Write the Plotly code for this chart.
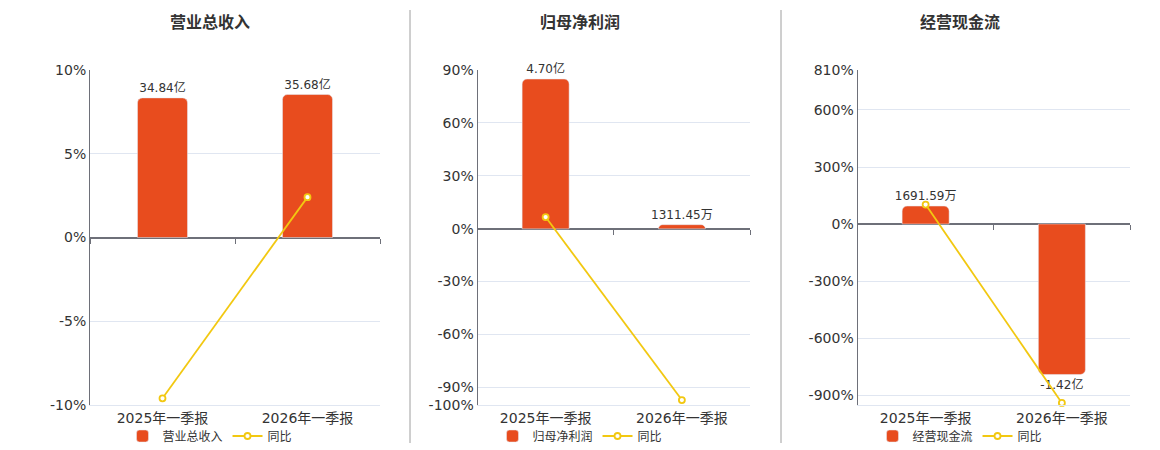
import plotly.graph_objects as go

W, H = 1152, 442   # page body has an 8px margin
OFF = 8

categories = ["2025年一季报", "2026年一季报"]

titles = ["营业总收入", "归母净利润", "经营现金流"]
bar_names = ["营业总收入", "归母净利润", "经营现金流"]
line_name = "同比"

# bar values in 亿
rev_vals = [34.84, 35.68]
profit_vals = [4.70, 0.131145]
cash_vals = [0.169159, -1.42]

rev_labels = ["34.84亿", "35.68亿"]
profit_labels = ["4.70亿", "1311.45万"]
cash_labels = ["1691.59万", "-1.42亿"]

# YoY %
rev_yoy = [-9.6, 2.41]
profit_yoy = [6.6, -97.21]
cash_yoy = [103.0, -939.0]

pct_ticks = [[-10, -5, 0, 5, 10], [-100, -90, -60, -30, 0, 30, 60, 90], [-900, -600, -300, 0, 300, 600, 810]]
pct_ranges = [[-10, 10], [-100, 90], [-950, 810]]
bar_ranges = [[-41.8, 41.8], [-5.525, 4.983], [-1.708, 1.453]]

BAR_C = "#E84C1E"
LINE_C = "#F2C811"
TXT = "#333333"
GRID = "#E0E6F1"
AX = "#6E7079"
FONT = "DejaVu Sans, Noto Sans CJK SC, sans-serif"


def px_x(p):
    return (p - OFF) / W


def px_y(p):
    return 1 - (p - OFF) / H


x_px = [(90, 380), (477.5, 750), (857.5, 1130)]
centers_px = [210, 580, 960]
y_dom = [px_y(405), px_y(70)]

bars = [rev_vals, profit_vals, cash_vals]
labels = [rev_labels, profit_labels, cash_labels]
yoys = [rev_yoy, profit_yoy, cash_yoy]

fig = go.Figure()
layout = dict(
    width=W, height=H, margin=dict(l=0, r=0, t=0, b=0, autoexpand=False),
    paper_bgcolor="white", plot_bgcolor="rgba(0,0,0,0)",
    font=dict(family=FONT, color=TXT, size=14),
    showlegend=True, annotations=[], shapes=[],
)

for i in range(3):
    n = i + 1
    xa = f"x{n}"
    ya_bar = f"y{n}"
    ya_pct = f"y{n + 3}"
    xa_zero = f"x{n + 3}"
    leg = "legend" if i == 0 else f"legend{n}"

    fig.add_trace(go.Bar(
        x=categories, y=bars[i], name=bar_names[i], xaxis=xa, yaxis=ya_bar,
        marker=dict(color=BAR_C, cornerradius=5), width=0.345,
        text=labels[i], texttemplate="%{text}", textposition="outside",
        constraintext="none",
        textfont=dict(size=12, color=TXT), cliponaxis=False, legend=leg,
        hoverinfo="skip",
    ))
    fig.add_trace(go.Scatter(
        x=categories, y=yoys[i], name=line_name, xaxis=xa, yaxis=ya_pct,
        mode="lines+markers", line=dict(color=LINE_C, width=1.8),
        marker=dict(symbol="circle", size=6, color="white", line=dict(color=LINE_C, width=1.8)),
        cliponaxis=False, legend=leg, hoverinfo="skip",
    ))
    # empty helper trace so the zero-line category axis gets drawn
    fig.add_trace(go.Scatter(
        x=[0, 1], y=[None, None], xaxis=xa_zero, yaxis=ya_bar, mode="lines",
        showlegend=False, hoverinfo="skip",
    ))

    dom_x = [px_x(x_px[i][0]), px_x(x_px[i][1])]
    lo, hi = pct_ranges[i]
    zero_pos = y_dom[0] + (0 - lo) / (hi - lo) * (y_dom[1] - y_dom[0])

    layout[f"xaxis{n}"] = dict(
        domain=dom_x, anchor=ya_bar, type="category", categoryorder="array",
        categoryarray=categories, range=[-0.5, 1.5], showgrid=False, zeroline=False,
        showline=True, linecolor=GRID, linewidth=1, ticks="", ticklen=0,
        tickfont=dict(size=14, color=TXT), fixedrange=True,
    )
    layout[f"yaxis{n}"] = dict(
        domain=y_dom, anchor=xa, range=bar_ranges[i], visible=False,
        showgrid=False, zeroline=False, fixedrange=True,
    )
    layout[f"yaxis{n + 3}"] = dict(
        overlaying=ya_bar, anchor=xa, side="left", range=pct_ranges[i],
        tickmode="array", tickvals=pct_ticks[i],
        ticktext=[f"{v}%" for v in pct_ticks[i]],
        showgrid=True, gridcolor=GRID, gridwidth=1,
        zeroline=True, zerolinecolor=AX, zerolinewidth=1.5,
        showline=True, linecolor=AX, linewidth=1,
        ticks="", tickfont=dict(size=14, color=TXT), fixedrange=True,
    )
    layout[f"xaxis{n + 3}"] = dict(
        overlaying=xa, anchor="free", position=zero_pos, range=[-0.5, 1.5],
        tickmode="array", tickvals=[-0.5, 0.5, 1.5], showticklabels=False,
        ticks="outside", ticklen=5, tickcolor=AX, tickwidth=1,
        showline=False, showgrid=False, zeroline=False, fixedrange=True,
    )
    layout[leg] = dict(
        orientation="h", x=px_x(centers_px[i]), y=px_y(436), xanchor="center",
        yanchor="middle", font=dict(size=12, color=TXT), bgcolor="rgba(0,0,0,0)",
        itemwidth=30, tracegroupgap=0,
    )
    layout["annotations"].append(dict(
        text=f"<b>{titles[i]}</b>", x=px_x(centers_px[i]), y=px_y(22),
        xref="paper", yref="paper", showarrow=False, xanchor="center",
        yanchor="middle", font=dict(size=16, color=TXT),
    ))

for xd in [410, 781]:
    layout["shapes"].append(dict(
        type="line", xref="paper", yref="paper", x0=px_x(xd), x1=px_x(xd),
        y0=px_y(10), y1=px_y(443), line=dict(color="#9E9E9E", width=1),
    ))

fig.update_layout(**layout)
fig.write_html("out.html")
